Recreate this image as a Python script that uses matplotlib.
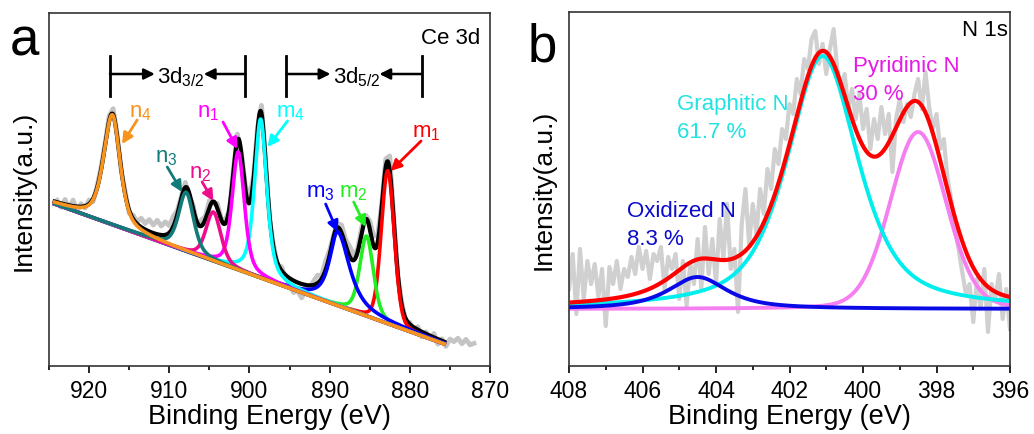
import numpy as np
import matplotlib.pyplot as plt
from matplotlib.ticker import MultipleLocator

plt.rcParams['font.family'] = ['Liberation Sans', 'DejaVu Sans']
plt.rcParams['mathtext.fontset'] = 'custom'
plt.rcParams['mathtext.rm'] = 'Liberation Sans'
plt.rcParams['mathtext.it'] = 'Liberation Sans:italic'
plt.rcParams['mathtext.bf'] = 'Liberation Sans:bold'

# ---------------- Ce 3d fit (panel a) ----------------
ce_names = ['m_1', 'm_2', 'm_3', 'm_4', 'n_1', 'n_2', 'n_3', 'n_4']
ce_center = [882.75, 885.4, 889.0, 898.6, 901.4, 904.5, 907.9, 917.1]
ce_height = [153, 80, 74, 159, 118, 49, 59, 110]
ce_fwhm_hi = [1.9, 2.0, 2.4, 1.8, 1.8, 2.2, 2.2, 2.6]
ce_fwhm_lo = [1.9, 2.0, 3.5, 1.8, 1.8, 2.2, 2.2, 2.3]
ce_eta = [0.2, 0.4, 0.8, 0.6, 0.5, 0.4, 0.5, 0.55]
ce_colors = ['#ff0000', '#22ee22', '#0000ff', '#00ffff',
             '#ff00ff', '#ec0c8c', '#137a7a', '#f7931e']
ce_bg_energy = [924.3, 875.7]
ce_bg_level = [162, 22]

# raw spectrum read as offset from the envelope, 924.0 -> 872.0 eV every 0.5 eV
ce_raw_start, ce_raw_step = 924.0, -0.5
ce_raw_offset = [
    2, -4, 5, -3, 6, -5, 3, -2, 4, -3,
    2, 3, 2, 5, 6, 2, -2, 3, -3, 4,
    2, 9, 6, 12, 8, 14, 9, 13, 7, 10,
    4, 2, 5, -2, 4, -3, 6, 3, 7, -2,
    5, 1, 4, -3, 3, 6, 2, 4, 7, 3,
    4, 8, 2, -3, 3, -2, 4, -3, -6, -12,
    -8, -14, -6, -3, 4, 8, 3, 9, 5, 2,
    4, 8, 6, 10, 5, 3, 6, 4, 8, 10,
    7, 3, 8, 15, 4, -2, 3, -3, 2, -4,
    3, -5, 2, -3, 4, -5, 2, -4, 5, 4,
    9, 5, 11, 7, 10]

# ---------------- N 1s fit (panel b) ----------------
n_names = ['Pyridinic N', 'Graphitic N', 'Oxidized N']
n_share = ['30 %', '61.7 %', '8.3 %']
n_center = [398.5, 401.1, 404.5]
n_height = [177, 253, 32]
n_fwhm = [1.8, 2.3, 1.9]
n_eta = [0.15, 0.65, 0.8]
n_colors = ['#f57ef0', '#00eeee', '#0a0ae6']
n_text_colors = ['#e619e6', '#22e2e2', '#0a0acc']
n_bg_level = 57

# raw N 1s spectrum, 408.0 -> 396.0 eV every 0.1 eV
n_raw_start, n_raw_step = 408.0, -0.1
n_raw = [
    77, 112, 52, 117, 67, 105, 82, 102, 69, 97,
    40, 99, 82, 105, 77, 97, 89, 109, 92, 119,
    97, 115, 87, 112, 105, 119, 77, 109, 97, 112,
    67, 105, 60, 102, 82, 127, 77, 139, 92, 127,
    82, 147, 107, 162, 97, 117, 54, 142, 177, 122,
    162, 132, 177, 152, 197, 177, 217, 202, 237, 227,
    262, 252, 287, 272, 307, 297, 327, 335, 302, 322,
    292, 317, 337, 297, 277, 292, 257, 277, 247, 272,
    237, 257, 217, 247, 227, 259, 232, 252, 194, 247,
    267, 244, 262, 249, 272, 287, 257, 294, 259, 237,
    252, 217, 227, 187, 167, 137, 117, 94, 72, 82,
    44, 87, 57, 97, 34, 82, 67, 92, 47, 77,
    37]


def pseudo_voigt(e, c, h, w_hi, w_lo, eta):
    w = np.where(e > c, w_hi, w_lo)
    x = e - c
    g = np.exp(-4 * np.log(2) * x ** 2 / w ** 2)
    l = 1 / (1 + 4 * x ** 2 / w ** 2)
    return h * (eta * l + (1 - eta) * g)


def ce_background(e):
    slope = (ce_bg_level[0] - ce_bg_level[1]) / (ce_bg_energy[0] - ce_bg_energy[1])
    return ce_bg_level[1] + (e - ce_bg_energy[1]) * slope


def ce_model(e):
    return [pseudo_voigt(e, c, h, wh, wl, et) for c, h, wh, wl, et in
            zip(ce_center, ce_height, ce_fwhm_hi, ce_fwhm_lo, ce_eta)]


fig = plt.figure(figsize=(10.34, 4.35), dpi=100)
ax1 = fig.add_axes([0.0474, 0.1563, 0.4265, 0.8115])
ax2 = fig.add_axes([0.5503, 0.1563, 0.4265, 0.8138])

# ---- panel a ----
e_fit = np.linspace(ce_bg_energy[0], ce_bg_energy[1], 1200)
bg = ce_background(e_fit)
comps = ce_model(e_fit)
envelope = bg + np.sum(comps, axis=0)

e_raw = ce_raw_start + ce_raw_step * np.arange(len(ce_raw_offset))
raw = ce_background(e_raw) + np.sum(ce_model(e_raw), axis=0) + np.array(ce_raw_offset)

ax1.plot(e_raw, raw, color='#c4c4c4', lw=3.4, zorder=1)
ax1.plot(e_fit, envelope, color='black', lw=3.0, zorder=2)
for comp, col in zip(comps, ce_colors):
    ax1.plot(e_fit, bg + comp, color=col, lw=2.6, zorder=3)

# peak labels with arrows (text pos, arrow start, arrow end)
ce_label_pos = [(877.9, 230), (887.1, 170), (891.1, 170), (894.9, 250),
                (905.2, 250), (906.1, 189), (910.4, 205), (913.6, 250)]
ce_arrow_from = [(878.6, 225), (887.0, 164), (890.5, 162), (895.25, 245),
                 (903.3, 244), (905.9, 184), (910.25, 199), (914.0, 246)]
ce_arrow_to = [(882.4, 195), (885.5, 139), (889.0, 134), (897.75, 219),
               (901.5, 217), (904.5, 165), (908.4, 174), (915.9, 222)]
for name, col, p, a0, a1 in zip(ce_names, ce_colors, ce_label_pos, ce_arrow_from, ce_arrow_to):
    ax1.text(p[0], p[1], r'$\mathregular{' + name + '}$', color=col, fontsize=16,
             ha='center', va='baseline', zorder=5)
    ax1.annotate('', xy=a1, xytext=a0,
                 arrowprops=dict(arrowstyle='-|>', color=col, lw=2.0, mutation_scale=16,
                                 shrinkA=0, shrinkB=0), zorder=5)

# spin-orbit brackets
arrow_kw = dict(arrowstyle='-|>', color='black', lw=1.8, mutation_scale=16,
                shrinkA=0, shrinkB=0)
for e_l, e_r, txt, e_t in [(917.4, 900.5, r'$\mathregular{3d_{3/2}}$', 908.5),
                            (895.4, 878.5, r'$\mathregular{3d_{5/2}}$', 886.6)]:
    for e_b in (e_l, e_r):
        ax1.plot([e_b, e_b], [270, 310], color='black', lw=2.0)
    ax1.text(e_t, 284, txt, fontsize=16, ha='center', va='baseline')
    ax1.annotate('', xy=(e_t + 3.3, 292), xytext=(e_l, 292), arrowprops=arrow_kw)
    ax1.annotate('', xy=(e_t - 2.8, 292), xytext=(e_r, 292), arrowprops=arrow_kw)

ax1.text(0.977, 0.96, 'Ce 3d', transform=ax1.transAxes, fontsize=16,
         ha='right', va='top')
ax1.set_xlim(925, 870)
ax1.set_ylim(0, 353)
ax1.xaxis.set_major_locator(MultipleLocator(10))
ax1.xaxis.set_minor_locator(MultipleLocator(5))

# ---- panel b ----
e_n = np.linspace(408, 396, 1200)
n_comps = [pseudo_voigt(e_n, c, h, w, w, et) for c, h, w, et in
           zip(n_center, n_height, n_fwhm, n_eta)]
n_env = n_bg_level + np.sum(n_comps, axis=0)
e_n_raw = n_raw_start + n_raw_step * np.arange(len(n_raw))

ax2.plot(e_n_raw, n_raw, color='#d0d0d0', lw=3.0, zorder=1)
for comp, col in zip(n_comps, n_colors):
    ax2.plot(e_n, n_bg_level + comp, color=col, lw=2.8, zorder=2)
ax2.plot(e_n, n_env, color='#ff0000', lw=3.0, zorder=3)

n_text_pos = [(400.27, 295), (405.06, 257), (406.42, 150)]
for name, share, col, p in zip(n_names, n_share, n_text_colors, n_text_pos):
    ax2.text(p[0], p[1], name, color=col, fontsize=16, ha='left', va='baseline')
    ax2.text(p[0], p[1] - 28, share, color=col, fontsize=16, ha='left', va='baseline')

ax2.text(0.995, 0.98, 'N 1s', transform=ax2.transAxes, fontsize=16,
         ha='right', va='top')
ax2.set_xlim(408, 396)
ax2.set_ylim(0, 354)
ax2.xaxis.set_major_locator(MultipleLocator(2))
ax2.xaxis.set_minor_locator(MultipleLocator(1))

for ax in (ax1, ax2):
    ax.set_yticks([])
    ax.tick_params(axis='x', which='major', direction='out', length=5, width=1.2,
                   labelsize=16.5, pad=4)
    ax.tick_params(axis='x', which='minor', direction='out', length=3, width=1.2)
    for s in ax.spines.values():
        s.set_linewidth(1.2)
        s.set_color('#333333')
    ax.set_xlabel('Binding Energy (eV)', fontsize=19.5, labelpad=1)
    ax.set_ylabel('Intensity(a.u.)', fontsize=19)
    ax.yaxis.set_label_coords(-0.03, 0.5)

fig.text(10 / 1034, (435 - 55) / 435, 'a', fontsize=38, va='baseline')
fig.text(528 / 1034, (435 - 62) / 435, 'b', fontsize=38, va='baseline')

fig.savefig('out.png', dpi=100)
